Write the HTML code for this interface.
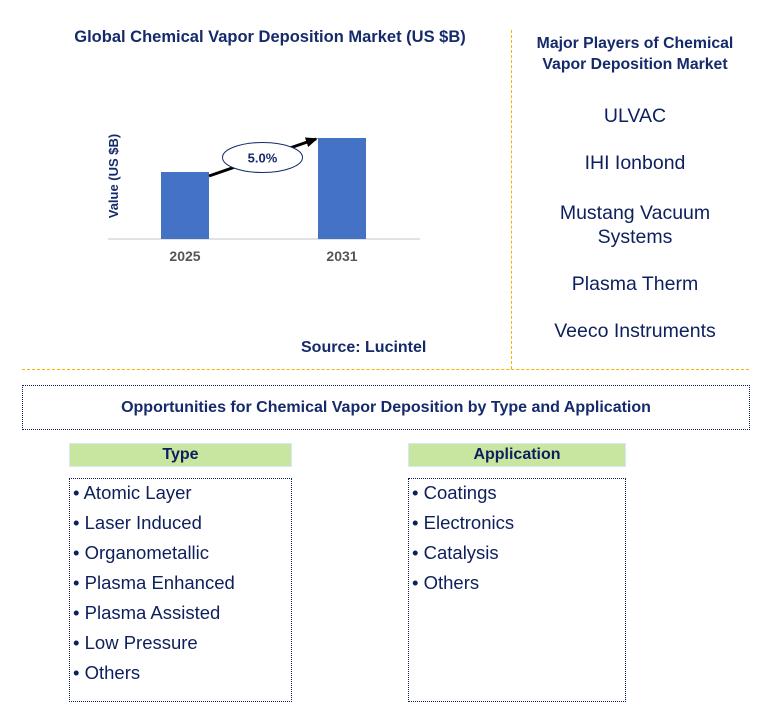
<!DOCTYPE html>
<html><head><meta charset="utf-8"><style>
*{margin:0;padding:0;box-sizing:border-box}
body{width:766px;height:715px;background:#fff;position:relative;font-family:"Liberation Sans",Arial,sans-serif;color:#0d1f5c;overflow:hidden}
.a{position:absolute}
.b{font-weight:bold}
.pl{position:absolute;left:0;width:250px;text-align:center;font-size:19.5px;color:#0d1f5c}
.box{border:1px dotted #0d1f5c}
.hdr{background:#c8e6a0;border:1px solid #d6e8f5;text-align:center;font-weight:bold;font-size:16px;line-height:22px}
.li{font-size:18.5px;line-height:30px;padding-left:3px}
</style></head><body>
<div class="a b" style="left:50px;top:28px;width:440px;text-align:center;font-size:16.5px;color:#142a6b">Global Chemical Vapor Deposition Market (US $B)</div>
<svg class="a" style="left:0;top:0" width="510" height="370">
<defs><marker id="ah" markerUnits="userSpaceOnUse" markerWidth="12" markerHeight="10" refX="10" refY="5" orient="auto"><path d="M0,0 L12,5 L0,10 z" fill="#000"/></marker></defs>
<g id="g"></g>
<text x="118" y="176" transform="rotate(-90 118 176)" text-anchor="middle" font-size="13" font-weight="bold" fill="#142a6b" font-family="Liberation Sans">Value (US $B)</text>
</svg>
<div class="a b" style="left:301px;top:339px;font-size:16px;color:#142a6b">Source: Lucintel</div>
<div class="a" style="left:511px;top:30px;height:339px;border-left:1px dashed #f5b400"></div>
<div class="a" style="left:22px;top:369px;width:727px;border-top:1px dashed #f5b400"></div>
<div class="a b" style="left:510px;top:33px;width:250px;text-align:center;font-size:15.8px;line-height:21px;color:#142a6b">Major Players of Chemical<br>Vapor Deposition Market</div>
<div class="a" style="left:510px;top:0">
<div class="pl" style="top:105px">ULVAC</div>
<div class="pl" style="top:152px">IHI Ionbond</div>
<div class="pl" style="top:201px;line-height:24px">Mustang Vacuum<br>Systems</div>
<div class="pl" style="top:273px">Plasma Therm</div>
<div class="pl" style="top:320px">Veeco Instruments</div>
</div>
<div class="a box b" style="left:22px;top:385px;width:728px;height:45px;text-align:center;font-size:16px;line-height:43px;color:#142a6b">Opportunities for Chemical Vapor Deposition by Type and Application</div>
<div class="a hdr" style="left:69px;top:443px;width:223px;height:24px">Type</div>
<div class="a hdr" style="left:408px;top:443px;width:218px;height:24px">Application</div>
<div class="a box" style="left:69px;top:478px;width:223px;height:224px">
<div style="margin-top:-1px">
<div class="li">• Atomic Layer</div><div class="li">• Laser Induced</div><div class="li">• Organometallic</div><div class="li">• Plasma Enhanced</div><div class="li">• Plasma Assisted</div><div class="li">• Low Pressure</div><div class="li">• Others</div></div></div>
<div class="a box" style="left:408px;top:478px;width:218px;height:224px">
<div style="margin-top:-1px">
<div class="li">• Coatings</div><div class="li">• Electronics</div><div class="li">• Catalysis</div><div class="li">• Others</div></div></div>
<script>
const categories=["2025","2031"];
const values=[6.7,10.1];
const cagrLabel="5.0%";
const ns="http://www.w3.org/2000/svg";
const g=document.getElementById('g');
const base=239, pxPer=10;
const xCenter=i=>185+i*157;
const yPos=v=>base-v*pxPer;
function mk(t,a){const e=document.createElementNS(ns,t);for(const k in a)e.setAttribute(k,a[k]);g.appendChild(e);return e;}
const ax=mk('line',{x1:108,y1:base,x2:420,y2:base,stroke:'#d9d9d9','stroke-width':1.5});


values.forEach((v,i)=>{
 const r=mk('rect',{x:xCenter(i)-24,y:yPos(v),width:48,height:v*pxPer,fill:'#4472c4'});
 
 
 const t=mk('text',{x:xCenter(i),y:base+22,'text-anchor':'middle','font-size':14,'font-weight':'bold',fill:'#555','font-family':'Liberation Sans'});
 t.textContent=categories[i];
 
 
});
const x1=xCenter(0)+24,y1=yPos(values[0])+4,x2=xCenter(1)-26,y2=yPos(values[1])+1;
const ar=mk('line',{x1:x1,y1:y1,x2:x2,y2:y2,stroke:'#000','stroke-width':3,'marker-end':'url(#ah)'});


const cx=(x1+x2)/2,cy=(y1+y2)/2;
const el=mk('ellipse',{cx:cx,cy:cy,rx:40,ry:15,fill:'#fff',stroke:'#142a6b','stroke-width':1});


const ct=mk('text',{x:cx,y:cy+5,'text-anchor':'middle','font-size':13,'font-weight':'bold',fill:'#142a6b','font-family':'Liberation Sans'});
ct.textContent=cagrLabel;


</script>
</body></html>
